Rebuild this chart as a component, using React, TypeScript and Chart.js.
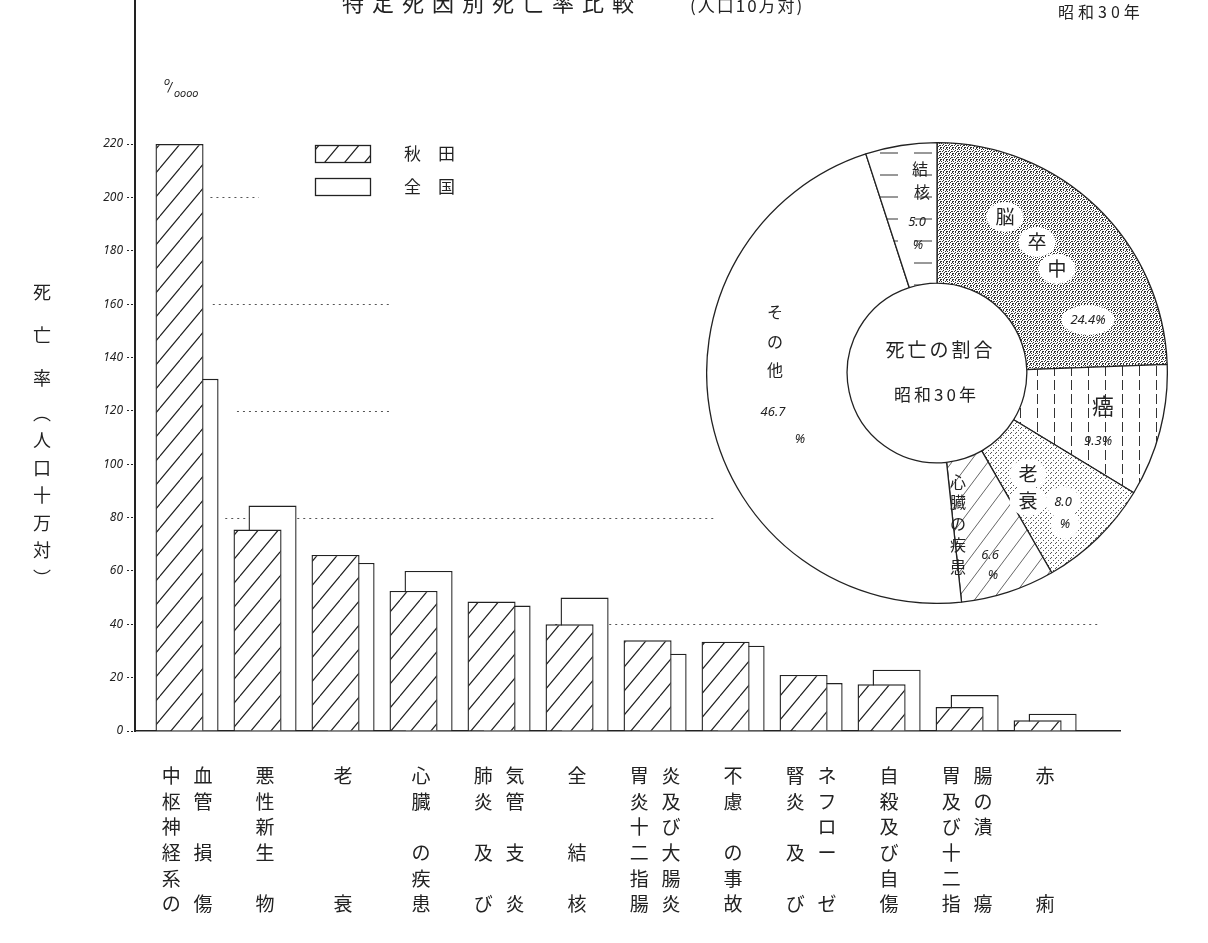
import { useEffect, useRef } from "react";
import { Chart, registerables } from "chart.js";

Chart.register(...registerables);

// ---------- data ----------
const causeLabelColumns: string[][] = [
  ["中枢神経系の", "血管　損　傷"],
  ["悪性新生　物"],
  ["老　　　　衰"],
  ["心臓　の疾患"],
  ["肺炎　及　び", "気管　支　炎"],
  ["全　　結　核"],
  ["胃炎十二指腸", "炎及び大腸炎"],
  ["不慮　の事故"],
  ["腎炎　及　び", "ネフロー　ゼ"],
  ["自殺及び自傷"],
  ["胃及び十二指", "腸の潰　　瘍"],
  ["赤　　　　痢"],
];
const akitaRates = [220, 75.5, 66, 52.5, 48.5, 40, 34, 33.5, 21, 17.5, 9, 4];
const nationalRates = [132, 84.5, 63, 60, 47, 50, 29, 32, 18, 23, 13.5, 6.5];
const seriesNames = ["秋田", "全国"];
const yTickLimit = 220;
const yTickStep = 20;

const pieCauses = ["脳卒中", "癌", "老衰", "心臓の疾患", "その他", "結核"];
const pieShares = [24.4, 9.3, 8.0, 6.6, 46.7, 5.0];
const pieCenterText = ["死亡の割合", "昭和30年"];

const chartTitle = "特定死因別死亡率比較";
const chartTitleUnit = "(人口10万対)";
const chartYear = "昭和30年";
const yAxisTitle = ["死", "亡", "率", "︵", "人", "口", "十", "万", "対", "︶"];

// dotted hand-drawn guide lines: value, from/to in category units
const guideLines = [
  { value: 200, from: 0.3, to: 0.92 },
  { value: 160, from: 0.33, to: 2.6 },
  { value: 120, from: 0.64, to: 2.63 },
  { value: 80, from: 0.49, to: 6.77 },
  { value: 40, from: 4.72, to: 11.7 },
];

// ---------- style ----------
const INK = "#222";
const JP = "'Noto Sans CJK JP', 'Noto Sans', sans-serif";

function makePattern(w: number, h: number, draw: (c: CanvasRenderingContext2D) => void): CanvasPattern {
  const cv = document.createElement("canvas");
  cv.width = w;
  cv.height = h;
  const c = cv.getContext("2d") as CanvasRenderingContext2D;
  c.fillStyle = "#fff";
  c.fillRect(0, 0, w, h);
  draw(c);
  return c.createPattern(cv, "repeat") as CanvasPattern;
}

function diagLines(c: CanvasRenderingContext2D, w: number, h: number) {
  c.beginPath();
  for (const o of [-w, 0, w]) {
    c.moveTo(o, h);
    c.lineTo(o + w, 0);
  }
  c.stroke();
}

function tickLines(i: number): string[] {
  const cols = causeLabelColumns[i].map((s) => Array.from(s));
  const rows = Math.max(...cols.map((c) => c.length));
  const out: string[] = [];
  for (let r = 0; r < rows; r++) {
    out.push(cols.map((c) => c[r] ?? "　").join("   "));
  }
  return out;
}

function drawSpaced(ctx: CanvasRenderingContext2D, text: string, x: number, y: number, gap: number) {
  let cx = x;
  for (const ch of Array.from(text)) {
    ctx.fillText(ch, cx, y);
    cx += ctx.measureText(ch).width + gap;
  }
}

export default function App() {
  const barRef = useRef<HTMLCanvasElement>(null);
  const pieRef = useRef<HTMLCanvasElement>(null);

  useEffect(() => {
    const hatch = makePattern(20, 24, (c) => {
      c.strokeStyle = INK;
      c.lineWidth = 1.2;
      diagLines(c, 20, 24);
    });
    const stipple = makePattern(6, 6, (c) => {
      c.fillStyle = "#333";
      [
        [0, 0], [3, 0], [1, 1], [5, 1], [3, 2], [0, 3],
        [2, 3], [5, 3], [4, 4], [1, 5], [3, 5], [0, 5],
      ].forEach(([x, y]) => c.fillRect(x, y, 1, 1));
    });
    const dots = makePattern(5, 5, (c) => {
      c.fillStyle = "#555";
      [[0, 0], [2, 3], [4, 1]].forEach(([x, y]) => c.fillRect(x, y, 1, 1));
    });
    const vlines = makePattern(17, 14, (c) => {
      c.strokeStyle = "#333";
      c.lineWidth = 1;
      c.beginPath();
      c.moveTo(8.5, 0);
      c.lineTo(8.5, 10);
      c.stroke();
    });
    const diag = makePattern(18, 24, (c) => {
      c.strokeStyle = "#555";
      c.lineWidth = 0.9;
      diagLines(c, 18, 24);
    });
    const hdash = makePattern(34, 22, (c) => {
      c.strokeStyle = "#333";
      c.lineWidth = 1;
      c.beginPath();
      c.moveTo(4, 11);
      c.lineTo(22, 11);
      c.stroke();
    });

    const barDecor = {
      id: "barDecor",
      beforeDatasetsDraw(chart: any) {
        const ctx: CanvasRenderingContext2D = chart.ctx;
        const xs = chart.scales.x;
        const ys = chart.scales.y;
        ctx.save();
        ctx.setLineDash([2, 4]);
        ctx.strokeStyle = "#555";
        ctx.lineWidth = 1;
        guideLines.forEach((g) => {
          const y = Math.round(ys.getPixelForValue(g.value)) + 0.5;
          ctx.beginPath();
          ctx.moveTo(xs.getPixelForValue(g.from), y);
          ctx.lineTo(xs.getPixelForValue(g.to), y);
          ctx.stroke();
        });
        ctx.restore();
      },
      afterDraw(chart: any) {
        const ctx: CanvasRenderingContext2D = chart.ctx;
        ctx.save();
        ctx.fillStyle = INK;
        // title (partly cut at top edge like the original)
        ctx.textBaseline = "middle";
        ctx.textAlign = "left";
        ctx.font = `22px ${JP}`;
        drawSpaced(ctx, chartTitle, 342, 3, 8);
        ctx.font = `17px ${JP}`;
        drawSpaced(ctx, chartTitleUnit, 690, 6, 2);
        ctx.font = `16px ${JP}`;
        drawSpaced(ctx, chartYear, 1058, 12, 4);

        // y-axis title (vertical)
        ctx.textAlign = "center";
        ctx.font = `18px ${JP}`;
        yAxisTitle.forEach((ch, i) => {
          const y = i < 3 ? 292 + i * 43 : 413 + (i - 3) * 27.5;
          ctx.fillText(ch, 42, y);
        });

        // unit mark
        ctx.font = `italic 10px 'DejaVu Sans', sans-serif`;
        ctx.textAlign = "left";
        ctx.fillText("o", 164, 82);
        ctx.font = `italic 12px 'DejaVu Sans', sans-serif`;
        ctx.fillText("/", 168, 88);
        ctx.font = `italic 10px 'DejaVu Sans', sans-serif`;
        ctx.fillText("oooo", 174, 94);

        // legend
        chart.data.datasets.forEach((ds: any, i: number) => {
          const bx = 315;
          const by = 145 + i * 33;
          ctx.fillStyle = ds.backgroundColor;
          ctx.fillRect(bx, by, 55, 17);
          ctx.strokeStyle = INK;
          ctx.lineWidth = 1.3;
          ctx.setLineDash([]);
          ctx.strokeRect(bx + 0.5, by + 0.5, 55, 17);
          ctx.fillStyle = INK;
          ctx.font = `17px ${JP}`;
          ctx.textAlign = "left";
          ctx.textBaseline = "middle";
          ctx.fillText(Array.from(ds.label as string).join("　"), 404, by + 9);
        });
        ctx.restore();
      },
    };

    const bar = new Chart(barRef.current as HTMLCanvasElement, {
      type: "bar",
      data: {
        datasets: [
          {
            label: seriesNames[0],
            data: akitaRates.map((v, i) => ({ x: i, y: v })),
            backgroundColor: hatch as any,
            borderColor: INK,
            borderWidth: 1.4,
            categoryPercentage: 0.385,
            barPercentage: 3.2,
          },
          {
            label: seriesNames[1],
            data: nationalRates.map((v, i) => ({ x: i, y: v })),
            backgroundColor: "#fff",
            borderColor: INK,
            borderWidth: 1.4,
            categoryPercentage: 0.385,
            barPercentage: 3.2,
          },
        ],
      },
      options: {
        responsive: false,
        animation: false,
        events: [],
        layout: { padding: { left: 0, right: 88, top: 0, bottom: 0 } },
        plugins: { legend: { display: false }, tooltip: { enabled: false } },
        scales: {
          x: {
            type: "linear",
            min: -0.667,
            max: 11.96,
            offset: false,
            grid: { display: false, drawTicks: false },
            border: { display: true, color: INK, width: 1.6 },
            ticks: {
              stepSize: 1,
              includeBounds: false,
              maxTicksLimit: 30,
              autoSkip: false,
              maxRotation: 0,
              minRotation: 0,
              padding: 32,
              color: INK,
              font: { family: JP, size: 19, lineHeight: 1.35 },
              callback: (v: any) => {
                const n = Number(v);
                return Number.isInteger(n) && n >= 0 && n < causeLabelColumns.length ? tickLines(n) : null;
              },
            },
            afterFit: (s: any) => {
              s.height = 212;
            },
          },
          y: {
            type: "linear",
            min: 0,
            max: 274,
            grid: {
              drawOnChartArea: false,
              drawTicks: true,
              tickLength: 8,
              color: INK,
              tickBorderDash: [2, 2],
              tickWidth: 1,
            },
            border: { display: true, color: INK, width: 2 },
            ticks: {
              stepSize: yTickStep,
              includeBounds: false,
              padding: 4,
              color: INK,
              font: { family: "'Noto Sans', sans-serif", size: 12, style: "italic" },
              callback: (v: any) => (Number(v) <= yTickLimit ? String(v) : null),
            },
            afterFit: (s: any) => {
              s.width = 135;
              s.paddingTop = 0;
              s.paddingBottom = 0;
            },
          },
        },
      },
      plugins: [barDecor],
    });

    // ---------- doughnut ----------
    const pieLayout: { name: number[][]; pct: { t: string; p: number[] }[]; size: number; halo?: boolean }[] = [
      { name: [[68, -156], [100, -131], [120, -104]], pct: [{ t: "%", p: [151, -53] }], size: 19, halo: true },
      { name: [[166, 33]], pct: [{ t: "%", p: [161, 68] }], size: 22 },
      { name: [[91, 101], [91, 128]], pct: [{ t: "n", p: [126, 129] }, { t: "u", p: [128, 151] }], size: 19, halo: true },
      { name: [[21, 109], [21, 129], [21, 151], [21, 172], [21, 194]], pct: [{ t: "n", p: [53, 182] }, { t: "u", p: [56, 202] }], size: 16 },
      { name: [[-162, -61], [-162, -31], [-162, -3]], pct: [{ t: "n", p: [-164, 39] }, { t: "u", p: [-137, 66] }], size: 16 },
      { name: [[-17, -204], [-15, -181]], pct: [{ t: "n", p: [-20, -151] }, { t: "u", p: [-19, -128] }], size: 16 },
    ];

    function drawCentered(ctx: CanvasRenderingContext2D, text: string, x: number, y: number, gap: number) {
      const chars = Array.from(text);
      const total = chars.reduce((a, ch) => a + ctx.measureText(ch).width, 0) + gap * (chars.length - 1);
      ctx.textAlign = "left";
      drawSpaced(ctx, text, x - total / 2, y, gap);
      ctx.textAlign = "center";
    }

    const pieDecor = {
      id: "pieDecor",
      beforeDatasetsDraw(chart: any) {
        const arc = chart.getDatasetMeta(0).data[0];
        const ctx: CanvasRenderingContext2D = chart.ctx;
        ctx.save();
        ctx.fillStyle = "#fff";
        ctx.beginPath();
        ctx.arc(arc.x, arc.y, arc.innerRadius, 0, Math.PI * 2);
        ctx.fill();
        ctx.restore();
      },
      afterDatasetsDraw(chart: any) {
        const arc = chart.getDatasetMeta(0).data[0];
        const cx = arc.x;
        const cy = arc.y;
        const ctx: CanvasRenderingContext2D = chart.ctx;
        ctx.save();
        ctx.textAlign = "center";
        ctx.textBaseline = "middle";
        pieLayout.forEach((lay, i) => {
          const chars = Array.from(pieCauses[i]);
          const val = pieShares[i].toFixed(1);
          const texts: { s: string; p: number[]; f: string }[] = [];
          chars.forEach((ch, k) => texts.push({ s: ch, p: lay.name[k], f: `${lay.size}px ${JP}` }));
          lay.pct.forEach((pp) => {
            const s = pp.t === "%" ? `${val}%` : pp.t === "n" ? val : "%";
            texts.push({ s, p: pp.p, f: `italic 13px 'Noto Sans', sans-serif` });
          });
          if (lay.halo) {
            ctx.fillStyle = "#fff";
            texts.forEach((t) => {
              ctx.font = t.f;
              const w = ctx.measureText(t.s).width;
              ctx.beginPath();
              ctx.ellipse(cx + t.p[0], cy + t.p[1], w / 2 + 9, 15, 0, 0, Math.PI * 2);
              ctx.fill();
            });
          }
          ctx.fillStyle = INK;
          texts.forEach((t) => {
            ctx.font = t.f;
            ctx.fillText(t.s, cx + t.p[0], cy + t.p[1]);
          });
        });
        ctx.font = `19px ${JP}`;
        drawCentered(ctx, pieCenterText[0], cx + 2, cy - 23, 3);
        ctx.font = `17px ${JP}`;
        drawCentered(ctx, pieCenterText[1], cx - 2, cy + 22, 3);
        ctx.restore();
      },
    };

    const pie = new Chart(pieRef.current as HTMLCanvasElement, {
      type: "doughnut",
      data: {
        labels: pieCauses,
        datasets: [
          {
            data: pieShares,
            backgroundColor: [stipple, vlines, dots, diag, "#fff", hdash] as any,
            borderColor: INK,
            borderWidth: 1.3,
          },
        ],
      },
      options: {
        responsive: false,
        animation: false,
        events: [],
        cutout: "39%",
        layout: { padding: 0 },
        plugins: { legend: { display: false }, tooltip: { enabled: false } },
      },
      plugins: [pieDecor],
    });

    return () => {
      bar.destroy();
      pie.destroy();
    };
  }, []);

  return (
    <div style={{ position: "absolute", left: 0, top: 0, width: 1208, height: 943, background: "#fff" }}>
      <canvas ref={barRef} width={1208} height={943} style={{ position: "absolute", left: 0, top: 0 }} />
      <canvas ref={pieRef} width={462} height={462} style={{ position: "absolute", left: 706, top: 142 }} />
    </div>
  );
}
